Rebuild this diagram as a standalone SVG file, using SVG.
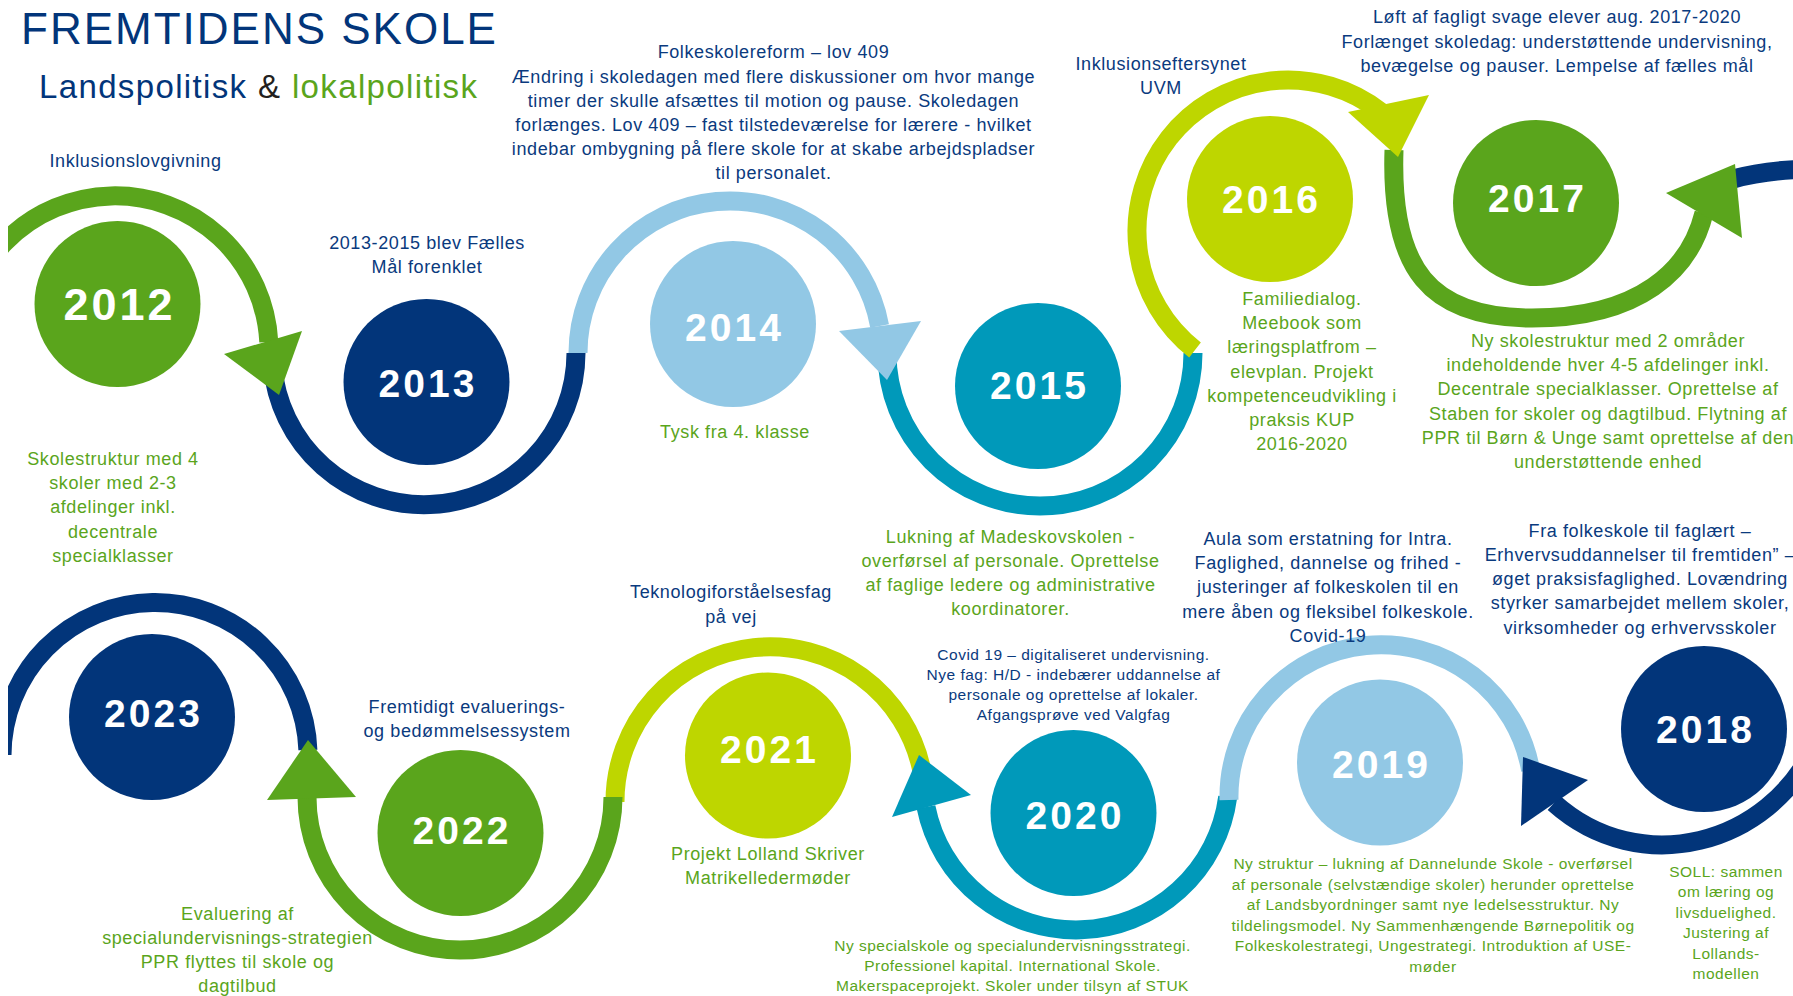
<svg xmlns="http://www.w3.org/2000/svg" width="1793" height="996" viewBox="0 0 1793 996">
<defs>
<style>
text{font-family:'Liberation Sans',Arial,sans-serif}
.yr{fill:#fff;font-weight:700;font-size:39px;letter-spacing:3px;text-anchor:middle}
.yr.big{font-size:45px}
.c-nv{fill:#02357A}.c-gr{fill:#5AA51C}.c-lb{fill:#92C8E5}.c-tl{fill:#0099BA}.c-lm{fill:#BED600}
.s-nv{stroke:#02357A}.s-gr{stroke:#5AA51C}.s-lb{stroke:#92C8E5}.s-tl{stroke:#0099BA}.s-lm{stroke:#BED600}
.arc{fill:none;stroke-width:19}
.t{font-size:18px;letter-spacing:0.6px;text-anchor:middle}
.sm{font-size:15.5px;letter-spacing:0.5px}
.tn{fill:#0A3A7E}.tg{fill:#5AA51C}
</style>
<clipPath id="clipL"><rect x="8" y="0" width="1785" height="996"/></clipPath>
</defs>
<rect width="1793" height="996" fill="#fff"/>

<g id="title">
<text x="21" y="44" font-size="44" letter-spacing="2" fill="#02357A">FREMTIDENS SKOLE</text>
<text x="39" y="98" font-size="33" letter-spacing="1.36"><tspan fill="#02357A">Landspolitisk</tspan><tspan fill="#231F20"> &amp; </tspan><tspan fill="#5AA51C">lokalpolitisk</tspan></text>
</g>

<g id="connectors" clip-path="url(#clipL)">
<path class="arc s-gr" d="M -39 350 A 154 154 0 0 1 268.8 342"/>
<path class="arc s-nv" d="M 272.5 365 A 152 152 0 0 0 576 353"/>
<path class="arc s-lb" d="M 578 353 A 152 152 0 0 1 879.6 326"/>
<path class="arc s-tl" d="M 887 353 A 153 153 0 0 0 1193 353"/>
<path class="arc s-lm" d="M 1195 350 A 151 151 0 1 1 1381 112"/>
<path class="arc s-gr" d="M 1394 150 C 1390 270 1430 318 1532 318 C 1640 318 1690 270 1704 213"/>
<path class="arc s-nv" d="M 1733 179 Q 1765 170 1810 169 M 1815 745 C 1770 845 1640 880 1554 803"/>
<path class="arc s-tl" d="M 1227.7 797 A 153 153 0 0 1 926 807"/>
<path class="arc s-lb" d="M 1530.6 770 A 152 152 0 0 0 1229 800"/>
<path class="arc s-lm" d="M 921.7 770 A 155 155 0 0 0 615 802"/>
<path class="arc s-gr" d="M 613 797 A 153 153 0 0 1 307 797"/>
<path class="arc s-nv" d="M 307.9 750 A 153 153 0 0 0 2 755"/>
<polygon class="c-gr" points="224,354 302,331 279,395"/>
<polygon class="c-lb" points="839,331 921,321 887,380"/>
<polygon class="c-lm" points="1348,112 1429,95 1398,157"/>
<polygon class="c-gr" points="1666,193 1742,238 1735,164"/>
<polygon class="c-nv" points="1588,780 1521,826 1523,757"/>
<polygon class="c-tl" points="892,817 971,795 919,755"/>
<polygon class="c-gr" points="267,800 356,797 308,740"/>
</g>

<g id="y2012"><circle class="c-gr" cx="117.5" cy="304" r="83"/><text class="yr big" x="119.5" y="320">2012</text></g>
<g id="y2013"><circle class="c-nv" cx="426.5" cy="382" r="83"/><text class="yr" x="428" y="397">2013</text></g>
<g id="y2014"><circle class="c-lb" cx="733" cy="324" r="83"/><text class="yr" x="734.5" y="341">2014</text></g>
<g id="y2015"><circle class="c-tl" cx="1038" cy="386" r="83"/><text class="yr" x="1039.5" y="399">2015</text></g>
<g id="y2016"><circle class="c-lm" cx="1270" cy="199" r="83"/><text class="yr" x="1271.5" y="213">2016</text></g>
<g id="y2017"><circle class="c-gr" cx="1536" cy="203" r="83"/><text class="yr" x="1537.5" y="212">2017</text></g>
<g id="y2018"><circle class="c-nv" cx="1704" cy="729" r="83"/><text class="yr" x="1705.5" y="743">2018</text></g>
<g id="y2019"><circle class="c-lb" cx="1380" cy="762.5" r="83"/><text class="yr" x="1381.5" y="778">2019</text></g>
<g id="y2020"><circle class="c-tl" cx="1073.5" cy="813" r="83"/><text class="yr" x="1075" y="829">2020</text></g>
<g id="y2021"><circle class="c-lm" cx="768" cy="755.5" r="83"/><text class="yr" x="769.5" y="763">2021</text></g>
<g id="y2022"><circle class="c-gr" cx="460.5" cy="833" r="83"/><text class="yr" x="462" y="844">2022</text></g>
<g id="y2023"><circle class="c-nv" cx="152" cy="717" r="83"/><text class="yr" x="153.5" y="727">2023</text></g>

<g id="n-inklusion"><text class="t tn" x="135.5" y="167">Inklusionslovgivning</text></g>
<g id="n-faellesmaal"><text class="t tn" y="249"><tspan x="427">2013-2015 blev Fælles</tspan><tspan x="427" dy="24">Mål forenklet</tspan></text></g>
<g id="n-folkeskolereform"><text class="t tn" y="58.3"><tspan x="773.5">Folkeskolereform – lov 409</tspan><tspan x="773.5" dy="24.2">Ændring i skoledagen med flere diskussioner om hvor mange</tspan><tspan x="773.5" dy="24.2">timer der skulle afsættes til motion og pause. Skoledagen</tspan><tspan x="773.5" dy="24.2">forlænges. Lov 409 – fast tilstedeværelse for lærere - hvilket</tspan><tspan x="773.5" dy="24.2">indebar ombygning på flere skole for at skabe arbejdspladser</tspan><tspan x="773.5" dy="24.2">til personalet.</tspan></text></g>
<g id="n-eftersyn"><text class="t tn" y="70"><tspan x="1161">Inklusionseftersynet</tspan><tspan x="1161" dy="24.3">UVM</tspan></text></g>
<g id="n-loeft"><text class="t tn" y="23.3"><tspan x="1557">Løft af fagligt svage elever aug. 2017-2020</tspan><tspan x="1557" dy="24.2">Forlænget skoledag: understøttende undervisning,</tspan><tspan x="1557" dy="24.2">bevægelse og pauser. Lempelse af fælles mål</tspan></text></g>
<g id="n-skolestruktur4"><text class="t tg" y="465"><tspan x="113">Skolestruktur med 4</tspan><tspan x="113" dy="24.2">skoler med 2-3</tspan><tspan x="113" dy="24.2">afdelinger inkl.</tspan><tspan x="113" dy="24.2">decentrale</tspan><tspan x="113" dy="24.2">specialklasser</tspan></text></g>
<g id="n-tysk"><text class="t tg" x="735" y="438">Tysk fra 4. klasse</text></g>
<g id="n-madeskov"><text class="t tg" y="542.7"><tspan x="1010.5">Lukning af Madeskovskolen -</tspan><tspan x="1010.5" dy="24.1">overførsel af personale. Oprettelse</tspan><tspan x="1010.5" dy="24.1">af faglige ledere og administrative</tspan><tspan x="1010.5" dy="24.1">koordinatorer.</tspan></text></g>
<g id="n-familiedialog"><text class="t tg" y="305"><tspan x="1302">Familiedialog.</tspan><tspan x="1302" dy="24.2">Meebook som</tspan><tspan x="1302" dy="24.2">læringsplatfrom –</tspan><tspan x="1302" dy="24.2">elevplan. Projekt</tspan><tspan x="1302" dy="24.2">kompetenceudvikling i</tspan><tspan x="1302" dy="24.2">praksis KUP</tspan><tspan x="1302" dy="24.2">2016-2020</tspan></text></g>
<g id="n-skolestruktur2"><text class="t tg" y="346.7"><tspan x="1608">Ny skolestruktur med 2 områder</tspan><tspan x="1608" dy="24.3">indeholdende hver 4-5 afdelinger inkl.</tspan><tspan x="1608" dy="24.3">Decentrale specialklasser. Oprettelse af</tspan><tspan x="1608" dy="24.3">Staben for skoler og dagtilbud. Flytning af</tspan><tspan x="1608" dy="24.3">PPR til Børn &amp; Unge samt oprettelse af den</tspan><tspan x="1608" dy="24.3">understøttende enhed</tspan></text></g>
<g id="n-aula"><text class="t tn" y="545"><tspan x="1328">Aula som erstatning for Intra.</tspan><tspan x="1328" dy="24.2">Faglighed, dannelse og frihed -</tspan><tspan x="1328" dy="24.2">justeringer af folkeskolen til en</tspan><tspan x="1328" dy="24.2">mere åben og fleksibel folkeskole.</tspan><tspan x="1328" dy="24.2">Covid-19</tspan></text></g>
<g id="n-faglaert"><text class="t tn" y="536.7"><tspan x="1640">Fra folkeskole til faglært –</tspan><tspan x="1640" dy="24.2">Erhvervsuddannelser til fremtiden” –</tspan><tspan x="1640" dy="24.2">øget praksisfaglighed. Lovændring</tspan><tspan x="1640" dy="24.2">styrker samarbejdet mellem skoler,</tspan><tspan x="1640" dy="24.2">virksomheder og erhvervsskoler</tspan></text></g>
<g id="n-teknologi"><text class="t tn" y="598.3"><tspan x="731">Teknologiforståelsesfag</tspan><tspan x="731" dy="24.3">på vej</tspan></text></g>
<g id="n-covid"><text class="t sm tn" y="660"><tspan x="1073.5">Covid 19 – digitaliseret undervisning.</tspan><tspan x="1073.5" dy="20.1">Nye fag: H/D - indebærer uddannelse af</tspan><tspan x="1073.5" dy="20.1">personale og oprettelse af lokaler.</tspan><tspan x="1073.5" dy="20.1">Afgangsprøve ved Valgfag</tspan></text></g>
<g id="n-evalueringssystem"><text class="t tn" y="712.7"><tspan x="467">Fremtidigt evaluerings-</tspan><tspan x="467" dy="24.1">og bedømmelsessystem</tspan></text></g>
<g id="n-evaluering"><text class="t tg" y="920"><tspan x="237.5">Evaluering af</tspan><tspan x="237.5" dy="24.1">specialundervisnings-strategien</tspan><tspan x="237.5" dy="24.1">PPR flyttes til skole og</tspan><tspan x="237.5" dy="24.1">dagtilbud</tspan></text></g>
<g id="n-lolland"><text class="t tg" y="860"><tspan x="768">Projekt Lolland Skriver</tspan><tspan x="768" dy="24.1">Matrikelledermøder</tspan></text></g>
<g id="n-specialskole"><text class="t sm tg" y="950.7"><tspan x="1012.5">Ny specialskole og specialundervisningsstrategi.</tspan><tspan x="1012.5" dy="20">Professionel kapital. International Skole.</tspan><tspan x="1012.5" dy="20">Makerspaceprojekt. Skoler under tilsyn af STUK</tspan></text></g>
<g id="n-struktur"><text class="t sm tg" y="869.3"><tspan x="1433">Ny struktur – lukning af Dannelunde Skole - overførsel</tspan><tspan x="1433" dy="20.5">af personale (selvstændige skoler) herunder oprettelse</tspan><tspan x="1433" dy="20.5">af Landsbyordninger samt nye ledelsesstruktur. Ny</tspan><tspan x="1433" dy="20.5">tildelingsmodel. Ny Sammenhængende Børnepolitik og</tspan><tspan x="1433" dy="20.5">Folkeskolestrategi, Ungestrategi. Introduktion af USE-</tspan><tspan x="1433" dy="20.5">møder</tspan></text></g>
<g id="n-soll"><text class="t sm tg" y="876.7"><tspan x="1726">SOLL: sammen</tspan><tspan x="1726" dy="20.5">om læring og</tspan><tspan x="1726" dy="20.5">livsduelighed.</tspan><tspan x="1726" dy="20.5">Justering af</tspan><tspan x="1726" dy="20.5">Lollands-</tspan><tspan x="1726" dy="20.5">modellen</tspan></text></g>
</svg>
